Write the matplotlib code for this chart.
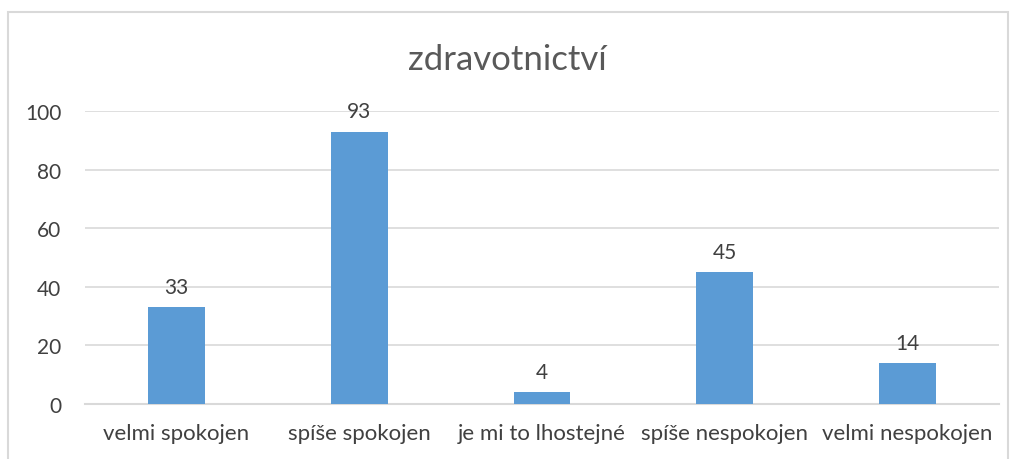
import matplotlib.pyplot as plt
from matplotlib.patches import Rectangle

categories = ["velmi spokojen", "spíše spokojen", "je mi to lhostejné",
              "spíše nespokojen", "velmi nespokojen"]
values = [33, 93, 4, 45, 14]
yticks = [0, 20, 40, 60, 80, 100]

plt.rcParams['font.family'] = ['Lato', 'DejaVu Sans']
W, H = 1014, 460
fig = plt.figure(figsize=(W / 100, H / 100), dpi=100)

# outer frame like the Excel chart border (bottom runs off the image)
fig.patches.append(Rectangle((8 / W, -0.05), 1000 / W, (H - 13) / H + 0.05,
                             transform=fig.transFigure, fill=False,
                             edgecolor='#d9d9d9', linewidth=1.5))

ax = fig.add_axes([85 / W, (H - 405) / H, (999 - 85) / W, (405 - 112) / H])
x = range(len(categories))
ax.bar(x, values, width=0.31, color='#5b9bd5', zorder=3)
for i, v in zip(x, values):
    ax.text(i, v + 3.5, str(v), ha='center', va='bottom', fontsize=15, color='#404040')

ax.set_xlim(-0.5, len(categories) - 0.5)
ax.set_ylim(0, 100)
ax.set_yticks(yticks)
ax.set_xticks(list(x))
ax.set_xticklabels(categories, fontsize=16)
ax.tick_params(axis='both', length=0, labelsize=15, colors='#404040')
ax.tick_params(axis='x', labelsize=16, pad=14)
ax.tick_params(axis='y', pad=17)
ax.grid(axis='y', color='#d9d9d9', linewidth=1.2, zorder=0)
for s in ['top', 'right', 'left']:
    ax.spines[s].set_visible(False)
ax.spines['bottom'].set_color('#d9d9d9')
ax.spines['bottom'].set_linewidth(1.5)

fig.text(0.5, (H - 60) / H, "zdravotnictví", ha='center', va='center',
         fontsize=25, color='#595959')

fig.savefig("out.png", dpi=100)
